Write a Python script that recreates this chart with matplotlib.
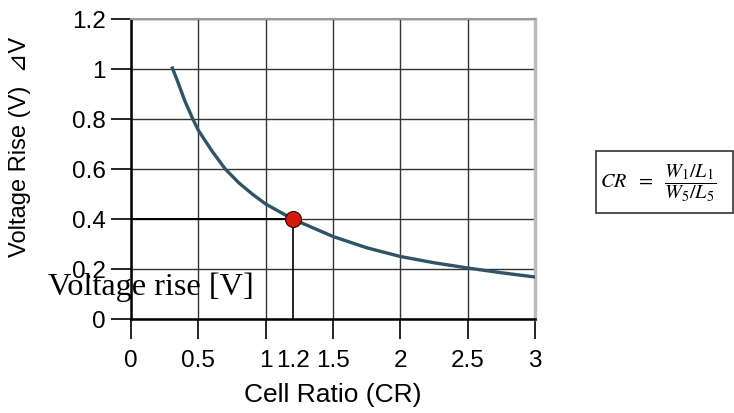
import matplotlib
matplotlib.use('Agg')
import matplotlib.pyplot as plt
from matplotlib.patches import Rectangle

# Curve: cell ratio vs voltage rise
cr = [0.303, 0.35, 0.4, 0.459, 0.5, 0.6, 0.7, 0.8, 0.9, 1.0, 1.1, 1.2,
      1.35, 1.5, 1.75, 2.0, 2.25, 2.5, 2.75, 3.0]
dv = [1.01, 0.945, 0.872, 0.80, 0.755, 0.673, 0.60, 0.545, 0.50, 0.46, 0.43, 0.40,
      0.365, 0.33, 0.285, 0.25, 0.225, 0.204, 0.185, 0.168]

# Operating point
op_cr = 1.2
op_dv = 0.4

xticks = [0, 0.5, 1, 1.2, 1.5, 2, 2.5, 3]
xticklabels = ['0', '0.5', '1', '1.2', '1.5', '2', '2.5', '3']
yticks = [0, 0.2, 0.4, 0.6, 0.8, 1, 1.2]
yticklabels = ['0', '0.2', '0.4', '0.6', '0.8', '1', '1.2']

plt.rcParams['font.family'] = ['Liberation Sans', 'DejaVu Sans']
plt.rcParams['mathtext.fontset'] = 'stix'

fig = plt.figure(figsize=(7.34, 4.14), dpi=100)
ax = fig.add_axes([131/734, 94/414, 404/734, 300/414])

ax.set_xlim(0, 3)
ax.set_ylim(0, 1.2)
ax.set_xticks(xticks)
ax.set_xticklabels(xticklabels)
ax.set_yticks(yticks)
ax.set_yticklabels(yticklabels)
ax.tick_params(axis='both', labelsize=17.5, length=14.4, width=1.2, direction='out')
ax.tick_params(axis='x', pad=7)
ax.tick_params(axis='y', pad=4)

ax.grid(True, color='#333333', linewidth=1)
# 1.2 has a label only: no tick mark, no grid line
t12 = ax.xaxis.get_major_ticks()[3]
t12.tick1line.set_visible(False)
t12.gridline.set_visible(False)

for s in ['left', 'bottom']:
    ax.spines[s].set_linewidth(1.8)
ax.spines['top'].set_color('#999999')
ax.spines['top'].set_linewidth(1.5)
ax.spines['right'].set_color('#bbbbbb')
ax.spines['right'].set_linewidth(2.5)

ax.plot([op_cr, op_cr], [0, op_dv], color='black', linewidth=1.2, zorder=3)
ax.plot([0, op_cr], [op_dv, op_dv], color='black', linewidth=1.4, zorder=3)
ax.plot(cr, dv, color='#2e5466', linewidth=2.4, zorder=4,
        solid_capstyle='butt', solid_joinstyle='round')
ax.plot(op_cr, op_dv, 'o', markersize=11.5, markerfacecolor='#d41a0c',
        markeredgecolor='#300000', markeredgewidth=0.8, zorder=5)

ax.set_xlabel('Cell Ratio (CR)', fontsize=19, labelpad=8)
fig.text(20/734, 1 - 147/414, 'Voltage Rise (V)  ⊿V', rotation=90,
         fontsize=17, ha='center', va='center')

fig.text(48/734, 1 - 295/414, 'Voltage rise [V]', family='Liberation Serif',
         fontsize=23.2, ha='left', va='baseline', zorder=10)

# formula box
fig.patches.append(Rectangle((596/734, 1 - 214/414), 137/734, 62/414,
                             transform=fig.transFigure, facecolor='white',
                             edgecolor='#333333', linewidth=1.2))
fig.text(658/734, 1 - 183/414, r'$CR\ \ =\ \ \dfrac{W_1/L_1}{W_5/L_5}$',
         fontsize=14.5, ha='center', va='center')

fig.savefig('out.png', dpi=100)
